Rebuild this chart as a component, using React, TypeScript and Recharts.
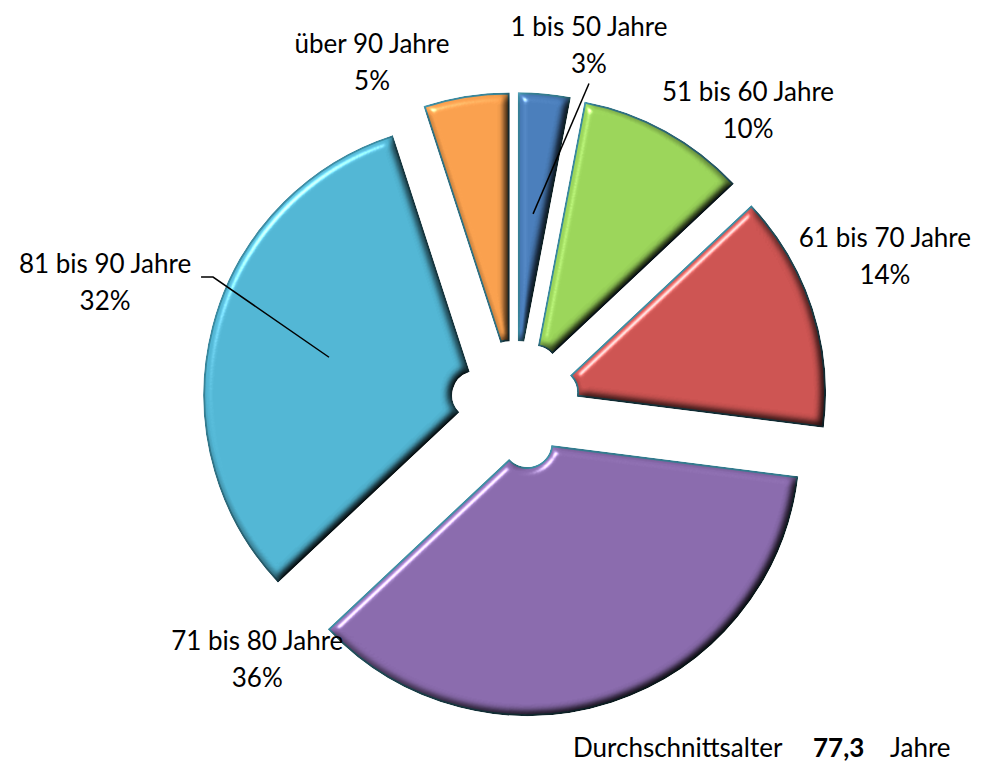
import { PieChart, Pie, Cell, Sector } from 'recharts';

const ageGroups = ['1 bis 50 Jahre', '51 bis 60 Jahre', '61 bis 70 Jahre', '71 bis 80 Jahre', '81 bis 90 Jahre', 'über 90 Jahre'];
const shares = [3, 10, 14, 36, 32, 5];
const averageAge = '77,3';

const colors = ['#4A7EBB', '#9BD55A', '#CD5452', '#8A6BAD', '#52B6D4', '#F9A04E'];

// label placement around the pie (angle clockwise from 12 o'clock, distance from center)
const labelPlacement: Record<string, { angle: number; dist: number; leader?: boolean }> = {
  '1 bis 50 Jahre': { angle: 11.6, dist: 368, leader: true },
  '51 bis 60 Jahre': { angle: 38.3, dist: 376 },
  '61 bis 70 Jahre': { angle: 68, dist: 399 },
  '71 bis 80 Jahre': { angle: 225.4, dist: 362 },
  '81 bis 90 Jahre': { angle: 286.7, dist: 428, leader: true },
  'über 90 Jahre': { angle: 337.4, dist: 372 },
};

const data = ageGroups.map((name, i) => ({ name, value: shares[i] }));

const RADIAN = Math.PI / 180;
const EXPLODE = 40;
const FONT = 'Lato, "Open Sans", sans-serif';

const ExplodedSlice = (props: any) => {
  const { cx, cy, midAngle } = props;
  const dx = Math.cos(-midAngle * RADIAN) * EXPLODE;
  const dy = Math.sin(-midAngle * RADIAN) * EXPLODE;
  return (
    <g filter="url(#bevel)">
      <Sector {...props} cx={cx + dx} cy={cy + dy} />
    </g>
  );
};

const renderLabel = (props: any) => {
  const { cx, cy, midAngle, name, percent } = props;
  const place = labelPlacement[name];
  const a = place.angle * RADIAN;
  const x = cx + Math.sin(a) * place.dist;
  const y = cy - Math.cos(a) * place.dist;
  const pct = `${Math.round(percent * 100)}%`;
  let leader = null;
  if (place.leader) {
    const ecx = cx + Math.cos(-midAngle * RADIAN) * EXPLODE;
    const ecy = cy + Math.sin(-midAngle * RADIAN) * EXPLODE;
    const ex = ecx + Math.cos(-midAngle * RADIAN) * 152;
    const ey = ecy + Math.sin(-midAngle * RADIAN) * 152;
    if (x < cx) {
      const sx = x + 96;
      const sy = y - 5;
      leader = <polyline points={`${sx},${sy} ${sx + 12},${sy} ${ex},${ey}`} fill="none" stroke="#000" strokeWidth={1.5} />;
    } else {
      leader = <line x1={x} y1={y + 39} x2={ex} y2={ey} stroke="#000" strokeWidth={1.5} />;
    }
  }
  return (
    <g key={name}>
      {leader}
      <text x={x} y={y - 9} textAnchor="middle" fontFamily={FONT} fontSize={26} fill="#000">
        {name}
      </text>
      <text x={x} y={y + 28} textAnchor="middle" fontFamily={FONT} fontSize={26} fill="#000">
        {pct}
      </text>
    </g>
  );
};

export default function App() {
  return (
    <div style={{ position: 'absolute', left: 0, top: 0, width: 987, height: 765, background: '#fff', fontFamily: FONT }}>
      <svg width={0} height={0} style={{ position: 'absolute' }}>
        <defs>
          <filter id="bevel" x="-10%" y="-10%" width="120%" height="120%" colorInterpolationFilters="sRGB">
            <feGaussianBlur in="SourceAlpha" stdDeviation="5" result="blur" />
            <feDiffuseLighting in="blur" surfaceScale="8" diffuseConstant="1.155" lightingColor="#ffffff" result="diff">
              <feDistantLight azimuth={225} elevation={60} />
            </feDiffuseLighting>
            <feComposite in="SourceGraphic" in2="diff" operator="arithmetic" k1="1" k2="0" k3="0" k4="0" result="shaded" />
            <feSpecularLighting in="blur" surfaceScale="8" specularConstant="0.8" specularExponent="40" lightingColor="#ffffff" result="spec">
              <feDistantLight azimuth={225} elevation={30} />
            </feSpecularLighting>
            <feComposite in="spec" in2="SourceAlpha" operator="in" result="specIn" />
            <feComposite in="shaded" in2="specIn" operator="arithmetic" k1="0" k2="1" k3="0.7" k4="0" result="lit" />
            <feComposite in="lit" in2="SourceAlpha" operator="in" />
          </filter>
        </defs>
      </svg>
      <PieChart width={987} height={765}>
        <Pie
          data={data}
          dataKey="value"
          nameKey="name"
          cx={510}
          cy={400}
          innerRadius={25}
          outerRadius={272}
          startAngle={90}
          endAngle={-270}
          stroke="#3A8AA0"
          strokeWidth={2}
          shape={ExplodedSlice}
          label={renderLabel}
          labelLine={false}
          isAnimationActive={false}
        >
          {data.map((d, i) => (
            <Cell key={d.name} fill={colors[i]} />
          ))}
        </Pie>
      </PieChart>
      <svg width={987} height={765} style={{ position: 'absolute', left: 0, top: 0, pointerEvents: 'none' }}>
        <text x={573} y={757} fontFamily={FONT} fontSize={26} fill="#000">Durchschnittsalter</text>
        <text x={813} y={757} fontFamily={FONT} fontSize={26} fontWeight="bold" fill="#000">{averageAge}</text>
        <text x={890} y={757} fontFamily={FONT} fontSize={26} fill="#000">Jahre</text>
      </svg>
    </div>
  );
}
